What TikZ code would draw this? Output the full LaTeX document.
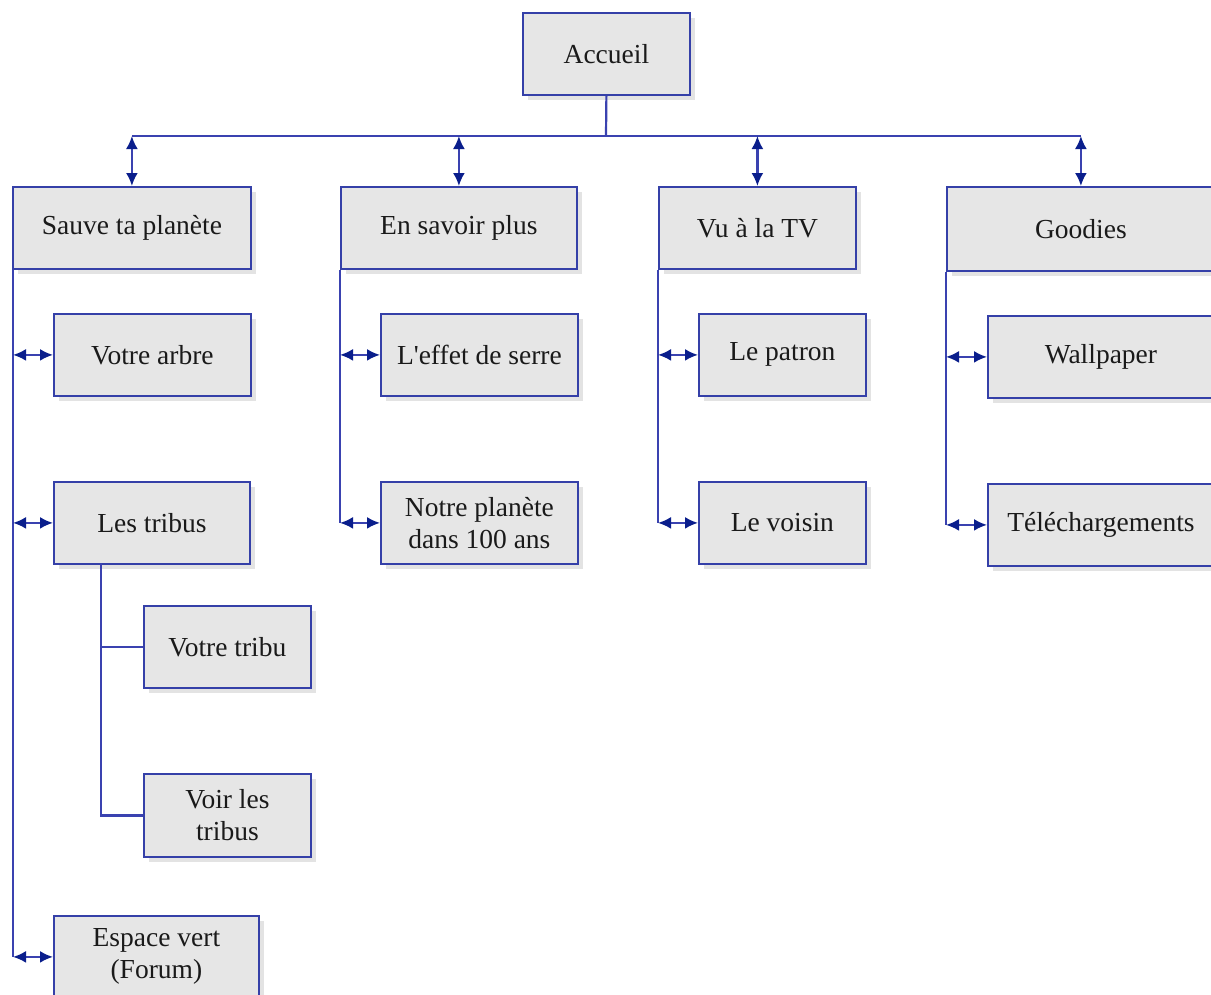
\documentclass[tikz,border=0pt]{standalone}
\usepackage{fontspec}
\setmainfont{Liberation Serif}
\usetikzlibrary{arrows.meta,shadows}
\definecolor{boxfill}{HTML}{E6E6E6}
\definecolor{boxline}{HTML}{3540A8}
\definecolor{connline}{HTML}{3A42B0}
\definecolor{tipcol}{HTML}{0A1E8C}
\definecolor{txt}{HTML}{1A1A1A}
\begin{document}
\begin{tikzpicture}[x=1pt,y=-1pt,
  pagebox/.style={draw=boxline, line width=1.8pt, fill=boxfill, anchor=north west,
    inner sep=0pt, align=center, text=txt,
    font=\fontsize{27.5}{32}\selectfont,
    general shadow={fill=black!11, shadow xshift=5pt, shadow yshift=-5pt}},
  conn/.style={draw=connline, line width=2.2pt},
  biarrow/.style={conn, {Latex[length=13pt,width=12pt,color=tipcol]}-{Latex[length=13pt,width=12pt,color=tipcol]}}
]
\clip (0,0) rectangle (1211,994);
\fill[white] (0,0) rectangle (1211,994);

\coordinate (bus) at (606,136);
\coordinate (tt) at (101,563);

% nodes
\node[pagebox, minimum width=167pt, minimum height=82pt] (acc) at (522,12) {Accueil};
\node[pagebox, minimum width=238pt, minimum height=82pt] (s1) at (12,186) {Sauve ta planète};
\node[pagebox, minimum width=236pt, minimum height=82pt] (s2) at (340,186) {En savoir plus};
\node[pagebox, minimum width=197pt, minimum height=82pt] (s3) at (658,186) {Vu à la TV};
\node[pagebox, minimum width=268pt, minimum height=84pt] (s4) at (946,186) {Goodies};

\node[pagebox, minimum width=197pt, minimum height=82pt] (a1) at (53,313) {Votre arbre};
\node[pagebox, minimum width=196pt, minimum height=82pt] (a2) at (53,481) {Les tribus};
\node[pagebox, minimum width=205pt, minimum height=82pt] (a3) at (53,915) {Espace vert\\(Forum)};
\node[pagebox, minimum width=167pt, minimum height=82pt] (t1) at (143,605) {Votre tribu};
\node[pagebox, minimum width=167pt, minimum height=83pt] (t2) at (143,773) {Voir les\\tribus};

\node[pagebox, minimum width=197pt, minimum height=82pt] (b1) at (380,313) {L\textquotesingle effet de serre};
\node[pagebox, minimum width=197pt, minimum height=82pt] (b2) at (380,481) {Notre planète\\dans 100 ans};

\node[pagebox, minimum width=167pt, minimum height=82pt] (c1) at (698,313) {Le patron};
\node[pagebox, minimum width=167pt, minimum height=82pt] (c2) at (698,481) {Le voisin};

\node[pagebox, minimum width=226pt, minimum height=82pt] (d1) at (987,315) {Wallpaper};
\node[pagebox, minimum width=226pt, minimum height=82pt] (d2) at (987,483) {Téléchargements};

% top level
\draw[conn] (acc.south) -- (bus);
\draw[conn] (s1.north |- bus) -- (s4.north |- bus);
\foreach \n in {s1,s2,s3,s4}{
  \draw[biarrow] (\n.north |- bus) -- (\n.north);
}

% Sauve ta planete
\draw[conn] ([xshift=1pt]s1.south west) -- ([xshift=1pt]s1.south west |- a3.west);
\foreach \n in {a1,a2,a3}{
  \draw[biarrow] ([xshift=1pt]s1.south west |- \n.west) -- (\n.west);
}
% Les tribus
\draw[conn] (tt) |- (t2.west);
\draw[conn] (tt |- t1.west) -- (t1.west);

% En savoir plus
\draw[conn] (s2.south west) -- (s2.south west |- b2.west);
\foreach \n in {b1,b2}{
  \draw[biarrow] (s2.south west |- \n.west) -- (\n.west);
}
% Vu a la TV
\draw[conn] (s3.south west) -- (s3.south west |- c2.west);
\foreach \n in {c1,c2}{
  \draw[biarrow] (s3.south west |- \n.west) -- (\n.west);
}
% Goodies
\draw[conn] (s4.south west) -- (s4.south west |- d2.west);
\foreach \n in {d1,d2}{
  \draw[biarrow] (s4.south west |- \n.west) -- (\n.west);
}
\end{tikzpicture}
\end{document}
